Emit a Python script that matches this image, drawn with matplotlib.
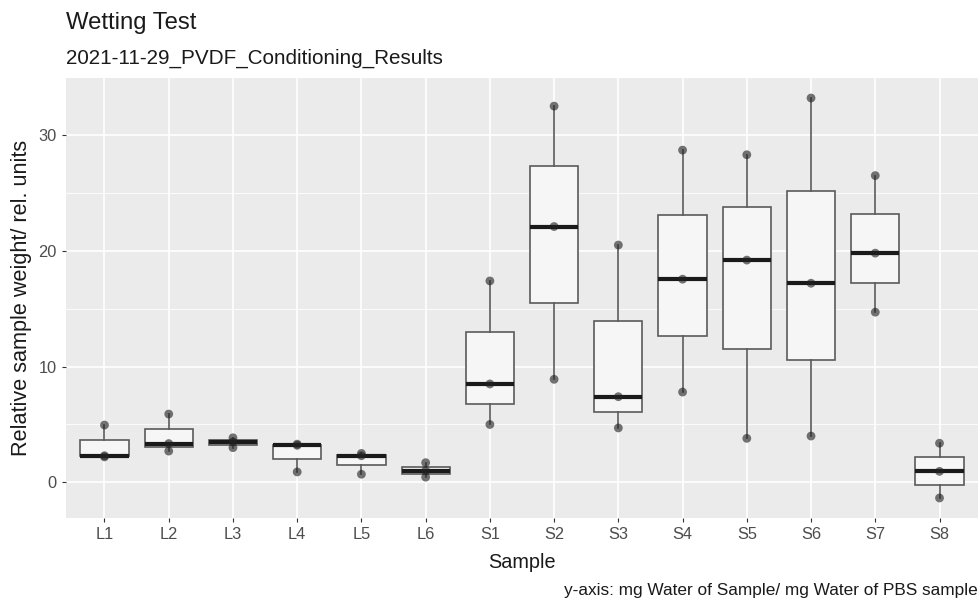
"""Wetting test boxplot, ggplot look"""

import matplotlib.pyplot as plt

# samples and the three measured values per sample
samples = ["L1", "L2", "L3", "L4", "L5", "L6",
           "S1", "S2", "S3", "S4", "S5", "S6", "S7", "S8"]
values = [
    [2.2, 2.3, 4.95],
    [2.7, 3.35, 5.9],
    [3.0, 3.5, 3.85],
    [0.9, 3.2, 3.3],
    [0.7, 2.3, 2.5],
    [0.45, 1.0, 1.7],
    [5.0, 8.5, 17.4],
    [8.9, 22.1, 32.5],
    [4.7, 7.4, 20.5],
    [7.8, 17.55, 28.7],
    [3.8, 19.2, 28.3],
    [4.0, 17.2, 33.2],
    [14.7, 19.8, 26.5],
    [-1.35, 0.95, 3.38],
]
y_ticks = [0, 10, 20, 30]

plt.rcParams['font.family'] = ['Liberation Sans', 'DejaVu Sans']

fig = plt.figure(figsize=(9.8, 6.03), dpi=100)
ax = fig.add_axes([0.0673, 0.141, 0.9307, 0.7296])
ax.set_facecolor('#ebebeb')

positions = list(range(1, len(samples) + 1))

# grid like theme_grey
lo = min(min(v) for v in values)
hi = max(max(v) for v in values)
pad = (hi - lo) * 0.05
ax.set_ylim(lo - pad, hi + pad)
ax.set_xlim(0.4, len(samples) + 0.6)
for y in [5, 15, 25]:
    ax.axhline(y, color='white', lw=0.6, zorder=0)
for y in y_ticks:
    ax.axhline(y, color='white', lw=1.2, zorder=0)
for x in positions:
    ax.axvline(x, color='white', lw=1.2, zorder=0)

ax.boxplot(values, positions=positions, widths=0.75, whis=(0, 100),
           patch_artist=True, showfliers=False,
           boxprops=dict(facecolor='#f6f6f6', edgecolor='#5a5a5a', lw=1.2),
           whiskerprops=dict(color='#5a5a5a', lw=1.2),
           capprops=dict(visible=False),
           medianprops=dict(color='#1a1a1a', lw=3),
           zorder=2)

for pos, vals in zip(positions, values):
    ax.scatter([pos] * len(vals), vals, s=40, color='#222222',
               alpha=0.62, edgecolors='none', zorder=3)

ax.set_xticks(positions)
ax.set_xticklabels(samples)
ax.set_yticks(y_ticks)
ax.tick_params(axis='both', colors='#333333', labelcolor='#4d4d4d',
               labelsize=11.8, length=3, width=0.8)
for s in ax.spines.values():
    s.set_visible(False)

# axis titles
fig.text(0.0673 + 0.9307 / 2, 1 - 563 / 603, 'Sample', fontsize=14.3,
         color='#1a1a1a', ha='center', va='center')
fig.text(22 / 980, 0.141 + 0.7296 / 2, 'Relative sample weight/ rel. units',
         fontsize=15.6, color='#1a1a1a', ha='center', va='center',
         rotation=90)

fig.text(0.0673, 0.962, 'Wetting Test', fontsize=17.2, color='#1a1a1a',
         va='center', ha='left')
fig.text(0.0673, 0.903, '2021-11-29_PVDF_Conditioning_Results',
         fontsize=14.9, color='#1a1a1a', va='center', ha='left')
fig.text(0.998, 1 - 591 / 603, 'y-axis: mg Water of Sample/ mg Water of PBS sample',
         fontsize=12.4, color='#1a1a1a', va='center', ha='right')

fig.savefig('out.png', dpi=100)
